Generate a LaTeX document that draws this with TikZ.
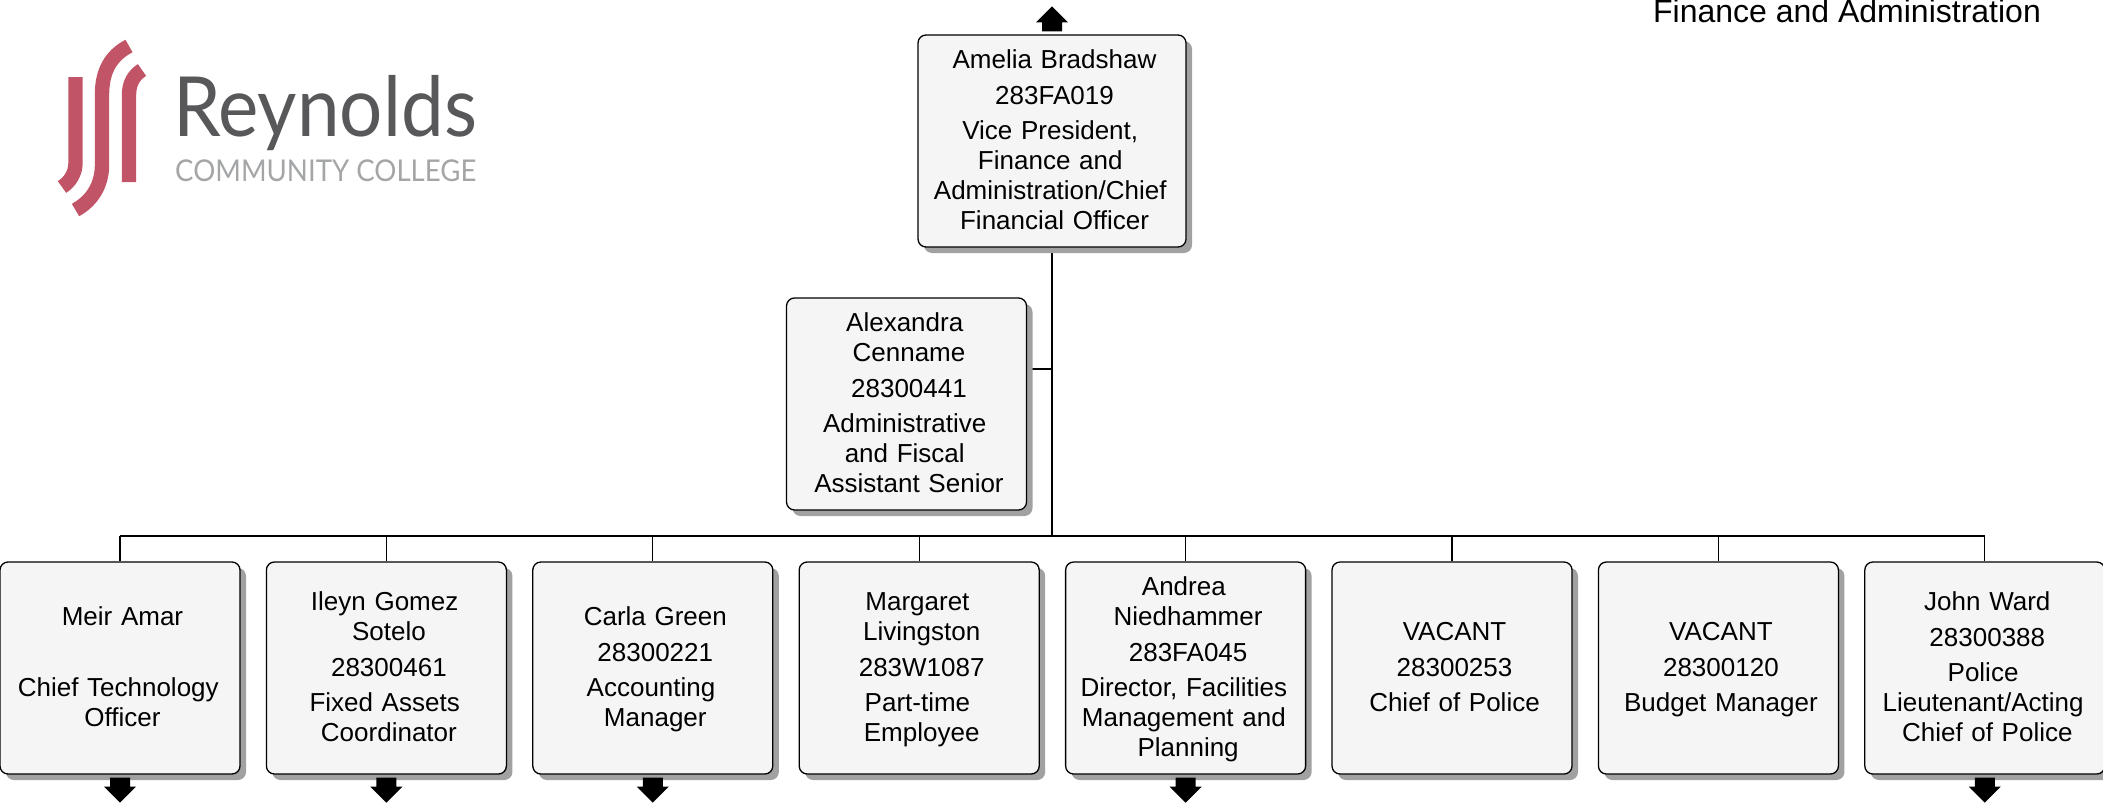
\documentclass[tikz,border=0pt]{standalone}
\usepackage{fontspec}
\setmainfont{Liberation Sans}
\newfontfamily\logofont[FakeStretch=0.92]{Lato}
\usetikzlibrary{positioning}
\usetikzlibrary{shadows}
\usetikzlibrary{backgrounds}
\definecolor{logored}{HTML}{C25468}
\definecolor{logodark}{HTML}{58585A}
\definecolor{logolight}{HTML}{A3A5A7}
\newcommand{\wrapsp}{\rule{8.5pt}{0pt}}
\tikzset{
node distance = 25.1pt,
   box/.style = {%
    shape=rectangle,
    rounded corners=8pt,
    draw=black,
    line width=1.3pt,
    fill=black!4,
    drop shadow={shadow xshift=6pt, shadow yshift=-6pt, fill=black!37, opacity=1},
    minimum height=212pt,
    inner sep=0pt,
    text width=240pt,
    align=center,
    execute at begin node={\advance\leftskip by 5pt\rule{0pt}{25pt}},
    execute at end node={\strut},
    font=\fontsize{26}{30}\selectfont},
 widebox/.style = {%
    box,
    text width=268pt},
 link/.style = {%
    draw=black,
    line width=1.1pt},
 trunk/.style = {%
    draw=black,
    line width=2pt},
 logobar/.style = {%
    draw=logored,
    line width=14.4pt},
 blockarrow/.pic = {%
    \fill[black] (-10,0) -- (10,0) -- (10,9) -- (16,9) -- (0,25) -- (-16,9) -- (-10,9) -- cycle;},
    }

\begin{document}
\begin{tikzpicture}[x=1pt,y=-1pt]
    \useasboundingbox (0,0) rectangle (2103,806);

    \node[widebox] (vp) at (1052,141)
        {Amelia Bradshaw\\[6pt] 283FA019\\[5pt] Vice President,\wrapsp\\ Finance and\wrapsp\\ Administration/Chief\wrapsp\\ Financial Officer};
    \node[box] (asst) at (906.5,404)
        {Alexandra\wrapsp\\ Cenname\\[6pt] 28300441\\[5pt] Administrative\wrapsp\\ and Fiscal\wrapsp\\ Assistant Senior};

    \node[box] (b1) at (120,668)
        {Meir Amar\\[6pt] ~\\[5pt] Chief Technology\wrapsp\\ Officer};
    \node[box, right=of b1] (b2)
        {Ileyn Gomez\wrapsp\\ Sotelo\\[6pt] 28300461\\[5pt] Fixed Assets\wrapsp\\ Coordinator};
    \node[box, right=of b2] (b3)
        {Carla Green\\[6pt] 28300221\\[5pt] Accounting\wrapsp\\ Manager};
    \node[box, right=of b3] (b4)
        {Margaret\wrapsp\\ Livingston\\[6pt] 283W1087\\[5pt] Part-time\wrapsp\\ Employee};
    \node[box, right=of b4] (b5)
        {Andrea\wrapsp\\ Niedhammer\\[6pt] 283FA045\\[5pt] Director, Facilities\wrapsp\\ Management and\wrapsp\\ Planning};
    \node[box, right=of b5] (b6)
        {VACANT\\[6pt] 28300253\\[5pt] Chief of Police};
    \node[box, right=of b6] (b7)
        {VACANT\\[6pt] 28300120\\[5pt] Budget Manager};
    \node[box, right=of b7] (b8)
        {John Ward\\[6pt] 28300388\\[5pt] Police\wrapsp\\ Lieutenant/Acting\wrapsp\\ Chief of Police};

    \coordinate (bus) at (vp.south |- 0,536);
    \coordinate (asstjoin) at (vp.south |- 0,369);
    \begin{scope}[on background layer]
        \draw[trunk] (vp.south) -- (bus);
        \draw[link] (asstjoin) -- (asstjoin -| asst.east);
        \draw[link] (b1.north |- bus) -- (b8.north |- bus);
        \foreach \n in {1,...,8}
            \draw[link] (b\n.north |- bus) -- (b\n.north);
    \end{scope}

    \pic[rotate=180] at ([yshift=3pt]vp.north) {blockarrow};
    \foreach \n in {1,2,3,5,8}
        \pic at ([yshift=-3pt]b\n.south) {blockarrow};

    \node[anchor=base, font=\fontsize{32}{32}\selectfont] (title) at (1847,22) {Finance and Administration};

    % logo
    \draw[logobar] (75.5,77) -- (75.5,163) .. controls (75.5,173) and (70,182) .. (62,187);
    \draw[logobar] (129,46) .. controls (110,56) and (102,72) .. (102,95) -- (102,165) .. controls (102,185) and (92,201) .. (75.5,210);
    \draw[logobar] (142,70) .. controls (134,75) and (129,83) .. (129,95) -- (129,182);
    \node[anchor=base west, inner sep=0pt, text=logodark, font=\logofont\fontsize{83}{83}\selectfont] (reynolds) at (173,136) {Reynolds};
    \node[anchor=base west, inner sep=0pt, text=logolight, font=\logofont\fontsize{30}{30}\selectfont] (college) at (175,181) {COMMUNITY COLLEGE};
\end{tikzpicture}
\end{document}
